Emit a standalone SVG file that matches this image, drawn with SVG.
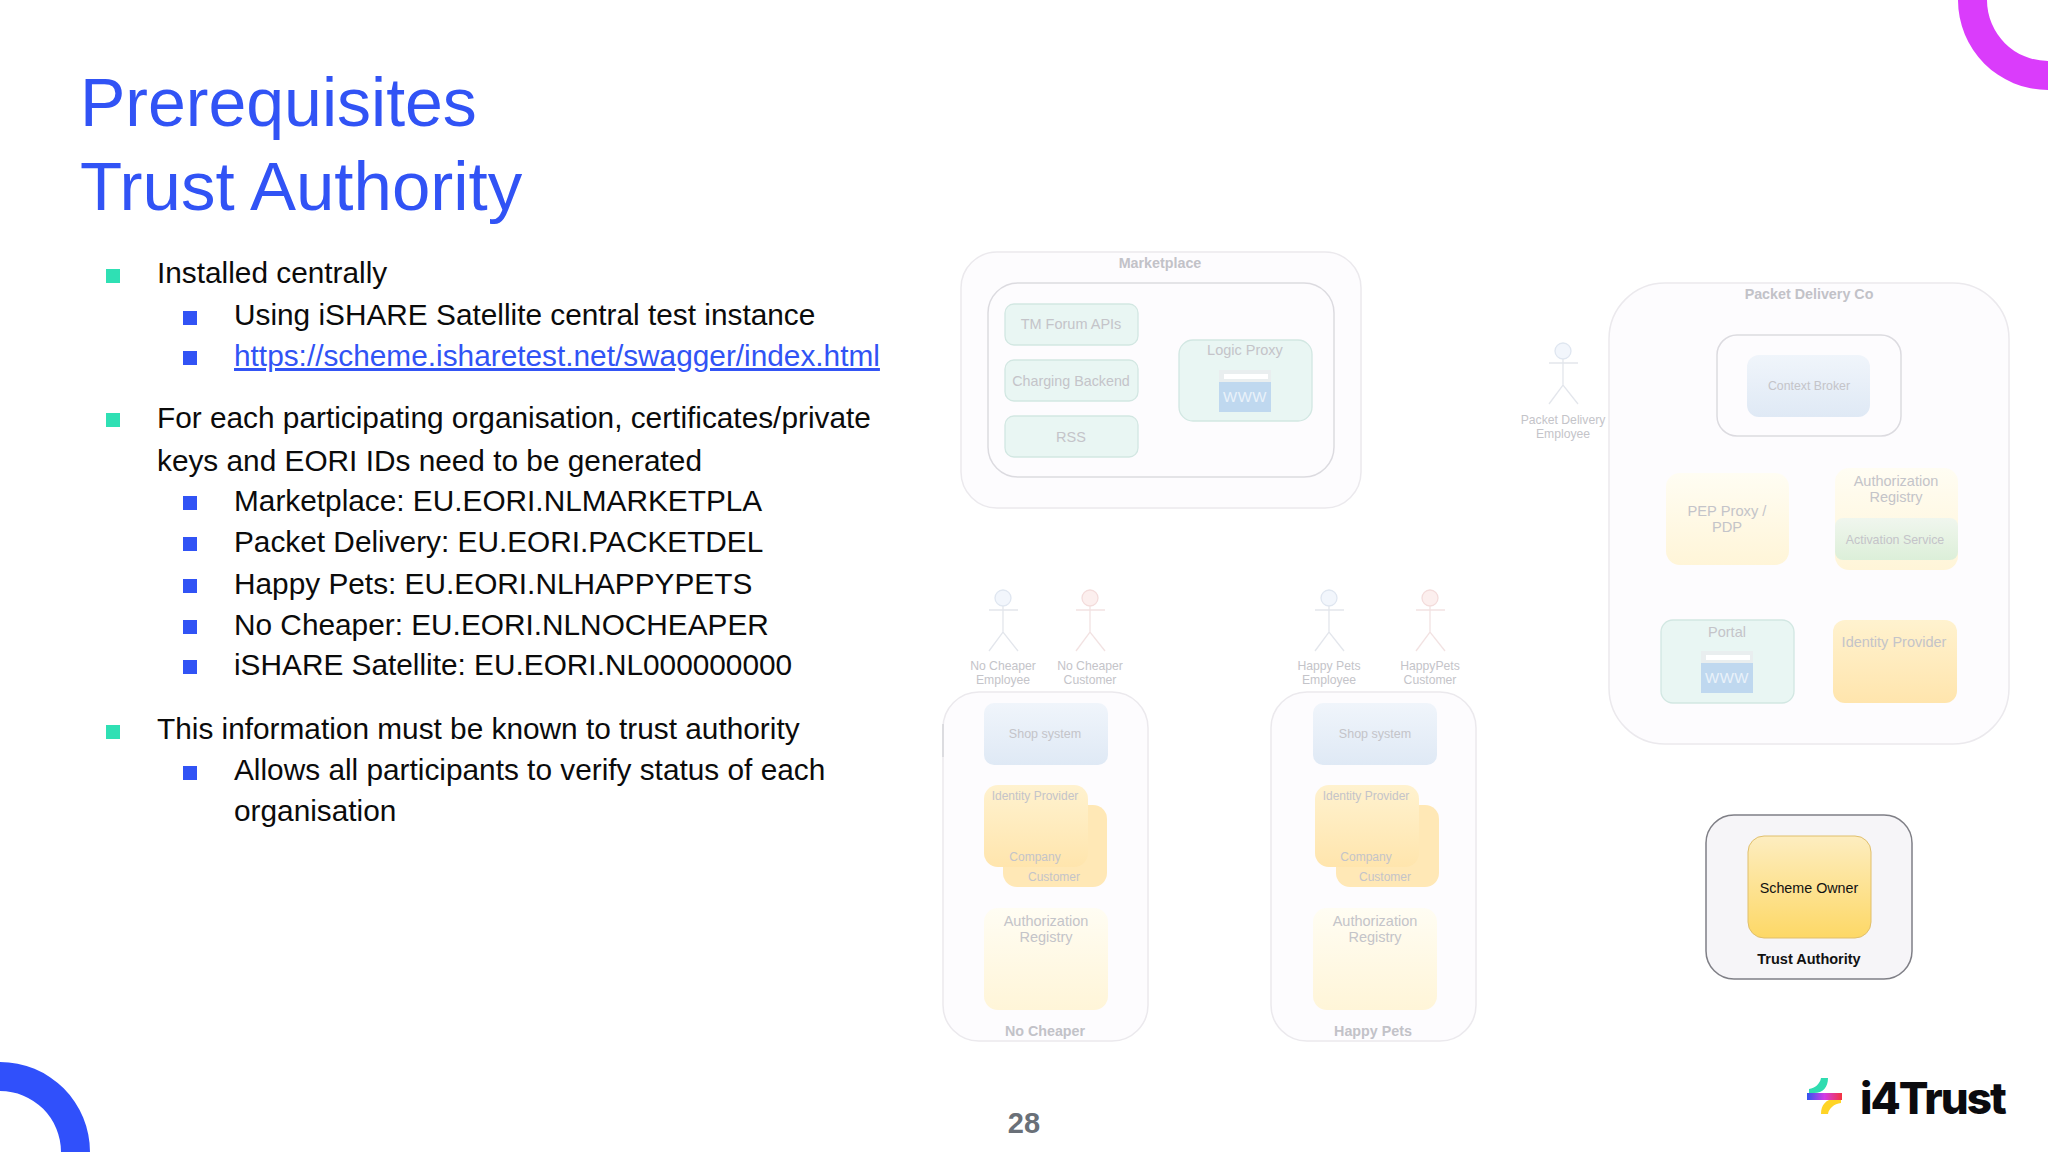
<svg xmlns="http://www.w3.org/2000/svg" width="2048" height="1152" viewBox="0 0 2048 1152">
<defs>
<linearGradient id="gBlue" x1="0" y1="0" x2="0" y2="1"><stop offset="0" stop-color="#f0f5fb"/><stop offset="1" stop-color="#dfe9f5"/></linearGradient>
<linearGradient id="gPale" x1="0" y1="0" x2="0" y2="1"><stop offset="0" stop-color="#fffdf3"/><stop offset="1" stop-color="#fff5d8"/></linearGradient>
<linearGradient id="gOrange" x1="0" y1="0" x2="0" y2="1"><stop offset="0" stop-color="#fff2cf"/><stop offset="1" stop-color="#ffe5ad"/></linearGradient>
<linearGradient id="gGreen" x1="0" y1="0" x2="0" y2="1"><stop offset="0" stop-color="#f0f6ee"/><stop offset="1" stop-color="#dcefd9"/></linearGradient>
<linearGradient id="gScheme" x1="0" y1="0" x2="0" y2="1"><stop offset="0" stop-color="#fdedc0"/><stop offset="1" stop-color="#fdd866"/></linearGradient>
<linearGradient id="gBar" x1="0" y1="0" x2="1" y2="0"><stop offset="0" stop-color="#2f55f0"/><stop offset="0.5" stop-color="#d23ce6"/><stop offset="1" stop-color="#f5333f"/></linearGradient>
<g id="www">
<rect x="0" y="0" width="52" height="42" fill="#e9eeef"/>
<rect x="5" y="4" width="44" height="5" fill="#ffffff"/>
<rect x="0" y="12" width="52" height="30" fill="#bfd8ef"/>
<text x="26" y="32" class="t" font-size="15" fill="#eaf2fa" text-anchor="middle" letter-spacing="0.500">WWW</text>
</g>
<g id="actorB" fill="none" stroke="#e3e6ec" stroke-width="1.300">
<circle cx="0" cy="0" r="8" fill="#f2f6fc" stroke="#dfe6f0"/>
<path d="M-14 12H15M0 8V34M-14 53L0 34L15 53"/>
</g>
<g id="actorR" fill="none" stroke="#f2e2e2" stroke-width="1.300">
<circle cx="0" cy="0" r="8" fill="#fcefee" stroke="#f3dcdb"/>
<path d="M-14 12H15M0 8V34M-14 53L0 34L15 53"/>
</g>
</defs>
<style>
.t{font-family:"Liberation Sans",Arial,sans-serif}
.h{font-family:"Liberation Sans",Arial,sans-serif;fill:#3153f5}
.b{font-family:"Liberation Sans",Arial,sans-serif;font-size:29.800px;fill:#0b0b0b}
.m{text-anchor:middle}
.g{fill:#c4c4c9}
.gb{fill:#c2c2c8;font-weight:bold;font-size:14.300px}
.outer{fill:#fdfcfe;stroke:#ebe9ed;stroke-width:1.500}
.inner{fill:#fdfcfe;stroke:#dcdbe0;stroke-width:1.500}
.teal{fill:#e9f6f3;stroke:#d2e7e2;stroke-width:1.300}
.blt1{fill:#2fe0b4}
.blt2{fill:#3153f5}
</style>
<rect width="2048" height="1152" fill="#ffffff"/>
<path d="M1958 0A90 90 0 0 0 2048 90V61A61 61 0 0 1 1987 0Z" fill="#da3cfb"/>
<path d="M0 1062A90 90 0 0 1 90 1152H61A61 61 0 0 0 0 1091Z" fill="#3050fb"/>

<text class="h" font-size="68" x="80" y="126">Prerequisites</text>
<text class="h" font-size="69" x="80" y="210">Trust Authority</text>

<g id="bullets">
<rect class="blt1" x="106" y="269" width="14" height="14"/>
<rect class="blt2" x="183" y="311" width="14" height="14"/>
<rect class="blt2" x="183" y="351" width="14" height="14"/>
<rect class="blt1" x="106" y="413" width="14" height="14"/>
<rect class="blt2" x="183" y="496" width="14" height="14"/>
<rect class="blt2" x="183" y="537" width="14" height="14"/>
<rect class="blt2" x="183" y="579" width="14" height="14"/>
<rect class="blt2" x="183" y="620" width="14" height="14"/>
<rect class="blt2" x="183" y="660" width="14" height="14"/>
<rect class="blt1" x="106" y="725" width="14" height="14"/>
<rect class="blt2" x="183" y="766" width="14" height="14"/>
</g>
<text class="b" x="157" y="283">Installed centrally</text>
<text class="b" x="234" y="325">Using iSHARE Satellite central test instance</text>
<text class="b" x="234" y="366" style="fill:#3153f5;text-decoration:underline">https://scheme.isharetest.net/swagger/index.html</text>
<text class="b" x="157" y="428">For each participating organisation, certificates/private</text>
<text class="b" x="157" y="471">keys and EORI IDs need to be generated</text>
<text class="b" x="234" y="511">Marketplace: EU.EORI.NLMARKETPLA</text>
<text class="b" x="234" y="552">Packet Delivery: EU.EORI.PACKETDEL</text>
<text class="b" x="234" y="594">Happy Pets: EU.EORI.NLHAPPYPETS</text>
<text class="b" x="234" y="635">No Cheaper: EU.EORI.NLNOCHEAPER</text>
<text class="b" x="234" y="675">iSHARE Satellite: EU.EORI.NL000000000</text>
<text class="b" x="157" y="739">This information must be known to trust authority</text>
<text class="b" x="234" y="780">Allows all participants to verify status of each</text>
<text class="b" x="234" y="821">organisation</text>

<g id="marketplace">
<rect class="outer" x="961" y="252" width="400" height="256" rx="36"/>
<rect class="inner" x="988" y="283" width="346" height="194" rx="30"/>
<text class="t m gb" x="1160" y="268">Marketplace</text>
</g>
<g id="tm-forum"><rect class="teal" x="1005" y="304" width="133" height="41" rx="9"/><text class="t m g" font-size="14.500" x="1071" y="329">TM Forum APIs</text></g>
<g id="charging"><rect class="teal" x="1005" y="360" width="133" height="41" rx="9"/><text class="t m g" font-size="14.300" x="1071" y="386">Charging Backend</text></g>
<g id="rss"><rect class="teal" x="1005" y="416" width="133" height="41" rx="9"/><text class="t m g" font-size="14.500" x="1071" y="442">RSS</text></g>
<g id="logic-proxy"><rect class="teal" x="1179" y="340" width="133" height="81" rx="14"/><text class="t m g" font-size="14.500" x="1245" y="355">Logic Proxy</text><use href="#www" x="1219" y="370"/></g>

<g id="packet-delivery">
<rect class="outer" x="1609" y="283" width="400" height="461" rx="56"/>
<text class="t m gb" x="1809" y="299">Packet Delivery Co</text>
<rect class="inner" x="1717" y="335" width="184" height="101" rx="20"/>
</g>
<g id="context-broker"><rect x="1747" y="355" width="123" height="62" rx="12" fill="url(#gBlue)"/><text class="t m g" font-size="12.300" x="1809" y="390">Context Broker</text></g>
<g id="pep"><rect x="1666" y="473" width="123" height="92" rx="14" fill="url(#gPale)"/><text class="t m g" font-size="14.700" x="1727" y="516">PEP Proxy /</text><text class="t m g" font-size="14.700" x="1727" y="532">PDP</text></g>
<g id="auth-pd"><rect x="1835" y="468" width="123" height="102" rx="14" fill="url(#gPale)"/><text class="t m g" font-size="14.500" x="1896" y="486">Authorization</text><text class="t m g" font-size="14.500" x="1896" y="502">Registry</text></g>
<g id="activation"><rect x="1835" y="518" width="123" height="42" rx="8" fill="url(#gGreen)"/><text class="t m g" font-size="12.400" x="1895" y="544">Activation Service</text></g>
<g id="portal"><rect class="teal" x="1661" y="620" width="133" height="83" rx="12"/><text class="t m g" font-size="14.500" x="1727" y="637">Portal</text><use href="#www" x="1701" y="651"/></g>
<g id="idp-pd"><rect x="1833" y="620" width="124" height="83" rx="12" fill="url(#gOrange)"/><text class="t m g" font-size="14.500" x="1894" y="647">Identity Provider</text></g>
<g id="actor-pd"><use href="#actorB" x="1563" y="351"/><text class="t m g" font-size="12.200" x="1563" y="424">Packet Delivery</text><text class="t m g" font-size="12.200" x="1563" y="438">Employee</text></g>

<g id="no-cheaper">
<rect class="outer" x="943" y="692" width="205" height="349" rx="36"/>
<path d="M943 724V757" stroke="#d6d6da" stroke-width="1.500" fill="none"/>
<text class="t m gb" x="1045" y="1036">No Cheaper</text>
<rect x="984" y="703" width="124" height="62" rx="10" fill="url(#gBlue)"/>
<text class="t m g" font-size="12.500" x="1045" y="738">Shop system</text>
<rect x="1003" y="805" width="104" height="82" rx="14" fill="#ffe8b6"/>
<rect x="984" y="785" width="104" height="82" rx="14" fill="url(#gOrange)"/>
<text class="t m g" font-size="12" x="1035" y="800">Identity Provider</text>
<text class="t m g" font-size="12" x="1035" y="861">Company</text>
<text class="t m g" font-size="12" x="1054" y="881">Customer</text>
<rect x="984" y="908" width="124" height="102" rx="14" fill="url(#gPale)"/>
<text class="t m g" font-size="14.500" x="1046" y="926">Authorization</text>
<text class="t m g" font-size="14.500" x="1046" y="942">Registry</text>
</g>
<g id="actor-nc-e"><use href="#actorB" x="1003" y="598"/><text class="t m g" font-size="12.200" x="1003" y="670">No Cheaper</text><text class="t m g" font-size="12.200" x="1003" y="684">Employee</text></g>
<g id="actor-nc-c"><use href="#actorR" x="1090" y="598"/><text class="t m g" font-size="12.200" x="1090" y="670">No Cheaper</text><text class="t m g" font-size="12.200" x="1090" y="684">Customer</text></g>

<g id="happy-pets">
<rect class="outer" x="1271" y="692" width="205" height="349" rx="36"/>
<text class="t m gb" x="1373" y="1036">Happy Pets</text>
<rect x="1313" y="703" width="124" height="62" rx="10" fill="url(#gBlue)"/>
<text class="t m g" font-size="12.500" x="1375" y="738">Shop system</text>
<rect x="1336" y="805" width="103" height="82" rx="14" fill="#ffe8b6"/>
<rect x="1315" y="785" width="104" height="82" rx="14" fill="url(#gOrange)"/>
<text class="t m g" font-size="12" x="1366" y="800">Identity Provider</text>
<text class="t m g" font-size="12" x="1366" y="861">Company</text>
<text class="t m g" font-size="12" x="1385" y="881">Customer</text>
<rect x="1313" y="908" width="124" height="102" rx="14" fill="url(#gPale)"/>
<text class="t m g" font-size="14.500" x="1375" y="926">Authorization</text>
<text class="t m g" font-size="14.500" x="1375" y="942">Registry</text>
</g>
<g id="actor-hp-e"><use href="#actorB" x="1329" y="598"/><text class="t m g" font-size="12.200" x="1329" y="670">Happy Pets</text><text class="t m g" font-size="12.200" x="1329" y="684">Employee</text></g>
<g id="actor-hp-c"><use href="#actorR" x="1430" y="598"/><text class="t m g" font-size="12.200" x="1430" y="670">HappyPets</text><text class="t m g" font-size="12.200" x="1430" y="684">Customer</text></g>

<g id="trust-authority">
<rect x="1706" y="815" width="206" height="164" rx="28" fill="#f6f5f8" stroke="#7f7f86" stroke-width="1.500"/>
<text class="t m" font-size="14.500" font-weight="bold" fill="#111" x="1809" y="964">Trust Authority</text>
</g>
<g id="scheme-owner"><rect x="1748" y="836" width="123" height="102" rx="16" fill="url(#gScheme)" stroke="#e0bf6c"/><text class="t m" font-size="14.300" fill="#111" x="1809" y="893">Scheme Owner</text></g>

<text class="t m" font-size="29" font-weight="bold" fill="#6a7078" x="1024" y="1133">28</text>

<g id="logo">
<path d="M1828 1078C1828 1087 1823 1093 1814 1093H1809V1089C1815 1088 1820 1084 1821 1078Z" fill="#2fdcb0"/>
<path d="M1821 1114C1821 1105 1826 1099 1835 1099H1841V1103C1834 1104 1829 1108 1828 1114Z" fill="#ffd426"/>
<rect x="1807" y="1093" width="35" height="7" fill="url(#gBar)"/>
<text font-family="Inter,'Liberation Sans',sans-serif" font-weight="800" font-size="44" letter-spacing="-1.950" fill="#0b0b0f" x="1860" y="1114">i4Trust</text>
</g>
</svg>
